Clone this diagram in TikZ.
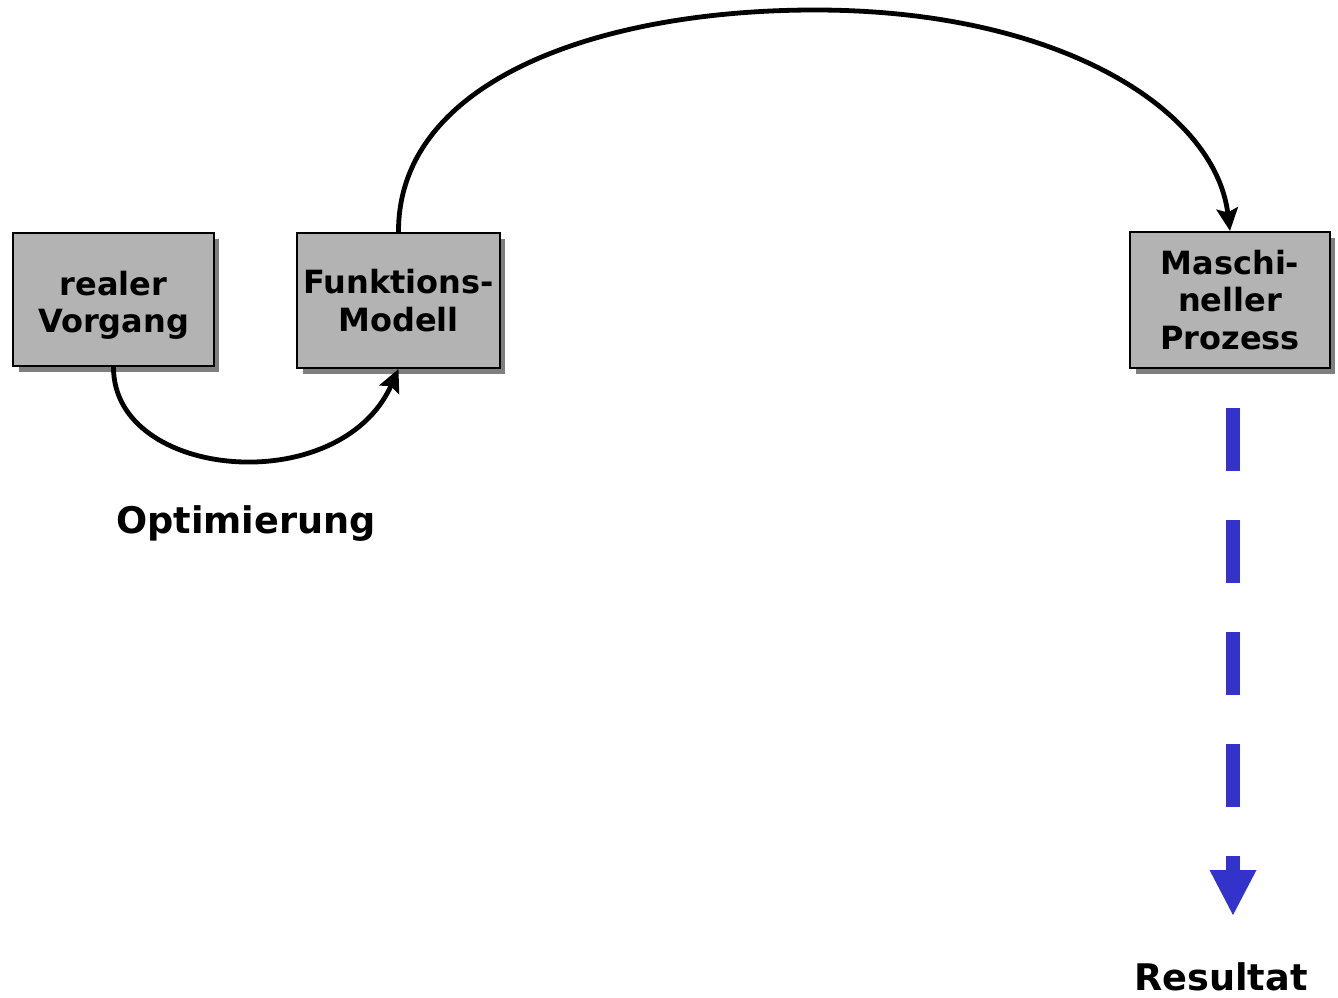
\documentclass[tikz,border=0pt]{standalone}
\usepackage{fontspec}
\setmainfont{DejaVu Sans}
\usetikzlibrary{arrows.meta}
\definecolor{boxgray}{HTML}{B3B3B3}
\definecolor{shadowgray}{HTML}{7F7F7F}
\definecolor{flowblue}{HTML}{3333CC}
\tikzset{
  stepbox/.style={draw=black, line width=1.5pt, fill=boxgray, inner sep=0pt,
    align=center, font=\bfseries\fontsize{24}{28}\selectfont},
  boxshadow/.style={fill=shadowgray},
  label/.style={font=\bfseries\fontsize{27.5}{30}\selectfont, inner sep=0pt},
  flow/.style={line width=3.6pt, -{Stealth[length=17pt, width=16pt, inset=3pt]}},
  result/.style={draw=flowblue, line width=11pt, dash pattern=on 47.25pt off 36.75pt,
    -{Triangle[length=33.75pt, width=35.25pt, line width=0pt, fill=flowblue]}}
}
\begin{document}
\begin{tikzpicture}[x=0.75pt, y=-0.75pt]
\useasboundingbox (0,0) rectangle (1338,998);
% drop shadows behind the boxes
\fill[boxshadow] (19,239) rectangle (219,372);
\fill[boxshadow] (303,239) rectangle (505,374);
\fill[boxshadow] (1136,238) rectangle (1335,374);
% boxes
\node[stepbox, minimum width=150.75pt, minimum height=99.75pt] (real) at (113.5,299.5)
  {\raisebox{-11.5pt}[0pt][0pt]{\begin{tabular}{@{}c@{}}realer\\Vorgang\end{tabular}}};
\node[stepbox, minimum width=152.25pt, minimum height=101.25pt] (model) at (398.5,300.5) {Funktions-\\Modell};
\node[stepbox, minimum width=150pt, minimum height=102pt] (proc) at (1230,300) {Maschi-\\neller\\Prozess};
% labels
\node[label, anchor=base] (opt) at (246,533) {Optimierung};
\node[label, anchor=base] (res) at (1221,990) {Resultat};
% connectors
\draw[flow] (real.south) .. controls (113,480) and (340,500) .. (model.south);
\draw[flow] (model.north) .. controls (398,80) and (600,10) .. (815,10)
  .. controls (1060,10) and (1215,110) .. (proc.north);
\coordinate (tip) at (1233,915);
\draw[result] ([xshift=2.25pt, yshift=-29.25pt]proc.south) -- (tip);
\end{tikzpicture}
\end{document}
